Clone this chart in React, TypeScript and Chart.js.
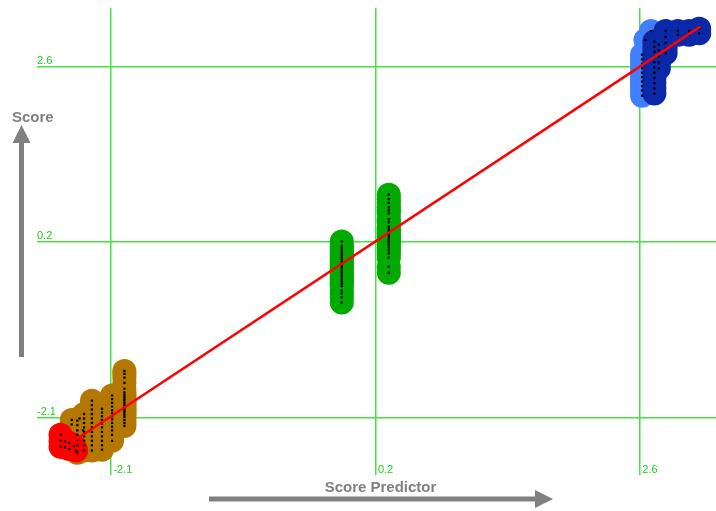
import React, { useEffect, useRef } from 'react';
import { Chart, registerables } from 'chart.js';

Chart.register(...registerables);

// Axis extents and the three marked positions on each axis
const X_MIN = -2.78;
const X_MAX = 3.28;
const Y_MIN = -2.89;
const Y_MAX = 3.39;
const TICK_VALUES = [-2.12, 0.24, 2.6];
const TICK_LABELS = ['-2.1', '0.2', '2.6'];

const X_TITLE = 'Score Predictor';
const Y_TITLE = 'Score';

// Lowest group (drawn beneath the brown group)
const RED_BACK_X = [-2.4, -2.37];
const RED_BACK_Y = [-2.13, -2.29];

// Lowest group (front)
const RED_X = [-2.57, -2.57, -2.57, -2.53, -2.53, -2.49, -2.49, -2.45, -2.43];
const RED_Y = [-2.35, -2.43, -2.51, -2.44, -2.52, -2.46, -2.54, -2.5, -2.56];

// Low group
const BROWN_X = [
  -2.0, -2.0, -2.0, -2.0, -2.0, -2.0, -2.0, -2.0, -2.0, -2.0, -2.0, -2.0, -2.0, -2.0, -2.0, -2.0, -2.0, -2.0, -2.0, -2.0, -2.0,
  -2.11, -2.11, -2.11, -2.11, -2.11, -2.11, -2.11, -2.11, -2.11, -2.11, -2.11, -2.11, -2.11,
  -2.2, -2.2, -2.2, -2.2, -2.2, -2.2, -2.2, -2.2, -2.2, -2.2, -2.2,
  -2.29, -2.29, -2.29, -2.29, -2.29, -2.29, -2.29, -2.29, -2.29, -2.29, -2.29, -2.29,
  -2.36, -2.36, -2.36, -2.36, -2.36, -2.36, -2.36, -2.36, -2.36,
  -2.42, -2.42, -2.42, -2.42, -2.42, -2.42, -2.42,
  -2.47, -2.47,
];
const BROWN_Y = [
  -1.49, -1.53, -1.58, -1.65, -1.73, -1.78, -1.81, -1.84, -1.87, -1.89, -1.92, -1.95, -1.98, -2.0, -2.03, -2.05, -2.08, -2.11, -2.15, -2.19, -2.23,
  -1.82, -1.87, -1.92, -1.97, -2.02, -2.06, -2.1, -2.14, -2.19, -2.24, -2.29, -2.35, -2.43,
  -2.0, -2.05, -2.1, -2.15, -2.2, -2.25, -2.31, -2.37, -2.43, -2.49, -2.55,
  -1.89, -1.95, -2.01, -2.07, -2.13, -2.19, -2.25, -2.31, -2.37, -2.43, -2.49, -2.56,
  -2.07, -2.13, -2.19, -2.25, -2.31, -2.37, -2.43, -2.49, -2.56,
  -2.16, -2.22, -2.29, -2.35, -2.42, -2.49, -2.59,
  -2.15, -2.21,
];

// Middle group: two columns
const GREEN_X = [
  -0.06, -0.06, -0.06, -0.06, -0.06, -0.06, -0.06, -0.06, -0.06, -0.06, -0.06, -0.06,
  -0.06, -0.06, -0.06, -0.06, -0.06, -0.06, -0.06, -0.06, -0.06, -0.06, -0.06, -0.06,
  0.36, 0.36, 0.36, 0.36, 0.36, 0.36, 0.36, 0.36, 0.36, 0.36, 0.36, 0.36,
  0.36, 0.36, 0.36, 0.36, 0.36, 0.36, 0.36, 0.36, 0.36, 0.36, 0.36,
];
const GREEN_Y = [
  0.25, 0.19, 0.16, 0.13, 0.1, 0.07, 0.04, 0.01, -0.02, -0.05, -0.08, -0.11,
  -0.14, -0.17, -0.2, -0.23, -0.26, -0.29, -0.32, -0.35, -0.41, -0.45, -0.5, -0.57,
  0.88, 0.82, 0.77, 0.71, 0.67, 0.63, 0.55, 0.51, 0.45, 0.42, 0.39, 0.36,
  0.33, 0.3, 0.27, 0.24, 0.21, 0.17, 0.13, 0.09, 0.03, -0.09, -0.17,
];

// High group (back)
const LIGHT_BLUE_X = [2.62, 2.62, 2.62, 2.62, 2.62, 2.62, 2.62, 2.62, 2.62, 2.62, 2.7, 2.65];
const LIGHT_BLUE_Y = [2.76, 2.7, 2.64, 2.58, 2.52, 2.46, 2.4, 2.34, 2.28, 2.21, 3.08, 2.96];

// Highest group (front)
const DARK_BLUE_X = [
  2.73, 2.73, 2.73, 2.73, 2.73, 2.73, 2.73, 2.73, 2.73, 2.73, 2.73,
  2.77, 2.77, 2.77, 2.77, 2.77,
  2.83, 2.83, 2.83, 2.83, 2.83,
  2.94, 2.94, 3.04, 3.04, 3.13, 3.13,
];
const DARK_BLUE_Y = [
  2.94, 2.87, 2.8, 2.73, 2.66, 2.59, 2.52, 2.45, 2.38, 2.31, 2.24,
  2.9, 2.82, 2.74, 2.66, 2.58,
  3.08, 3.0, 2.92, 2.84, 2.78,
  3.08, 3.03, 3.08, 3.03, 3.11, 3.05,
];

// Fitted line end points
const FIT_X = [-2.48, 3.14];
const FIT_Y = [-2.46, 3.14];

const GRID_COLOR = '#45e445';
const TICK_COLOR = '#22cc22';
const TITLE_COLOR = '#808080';

const toPoints = (xs: number[], ys: number[]) => xs.map((x, i) => ({ x, y: ys[i] }));

const blob = (data: { x: number; y: number }[], color: string, order: number) => ({
  data,
  order,
  backgroundColor: color,
  pointBackgroundColor: color,
  pointBorderWidth: 0,
  pointRadius: 12,
  pointHoverRadius: 12,
  showLine: false,
});

const tickLabelPlugin = {
  id: 'innerTickLabels',
  beforeDatasetsDraw(chart: any) {
    const { ctx, chartArea, scales } = chart;
    ctx.save();
    ctx.font = '11px "Liberation Sans", Arial, sans-serif';
    ctx.fillStyle = TICK_COLOR;
    ctx.textBaseline = 'alphabetic';
    ctx.textAlign = 'left';
    TICK_VALUES.forEach((v, i) => {
      const py = scales.y.getPixelForValue(v);
      ctx.fillText(TICK_LABELS[i], chartArea.left, py - 3);
      const px = scales.x.getPixelForValue(v);
      ctx.fillText(TICK_LABELS[i], px + 2.5, chartArea.bottom - 2);
    });
    ctx.restore();
  },
};

const axisArrowPlugin = {
  id: 'axisArrows',
  afterDraw(chart: any) {
    const { ctx } = chart;
    ctx.save();
    ctx.fillStyle = TITLE_COLOR;
    // horizontal arrow
    ctx.fillRect(209, 496.5, 327, 5);
    ctx.beginPath();
    ctx.moveTo(535, 490);
    ctx.lineTo(553, 499);
    ctx.lineTo(535, 508);
    ctx.closePath();
    ctx.fill();
    // vertical arrow
    ctx.fillRect(19, 143, 5, 214);
    ctx.beginPath();
    ctx.moveTo(12.5, 143);
    ctx.lineTo(21.5, 125);
    ctx.lineTo(30.5, 143);
    ctx.closePath();
    ctx.fill();
    // titles
    ctx.font = 'bold 15px "Liberation Sans", Arial, sans-serif';
    ctx.textBaseline = 'alphabetic';
    ctx.textAlign = 'center';
    ctx.fillText(X_TITLE, 380.5, 492);
    ctx.textAlign = 'left';
    ctx.fillText(Y_TITLE, 12, 122);
    ctx.restore();
  },
};

export default function App() {
  const canvasRef = useRef<HTMLCanvasElement | null>(null);

  useEffect(() => {
    if (!canvasRef.current) return;
    const all = [
      ...toPoints(RED_BACK_X, RED_BACK_Y),
      ...toPoints(RED_X, RED_Y),
      ...toPoints(BROWN_X, BROWN_Y),
      ...toPoints(GREEN_X, GREEN_Y),
      ...toPoints(LIGHT_BLUE_X, LIGHT_BLUE_Y),
      ...toPoints(DARK_BLUE_X, DARK_BLUE_Y),
    ];
    const chart = new Chart(canvasRef.current, {
      type: 'scatter',
      data: {
        datasets: [
          {
            data: toPoints(FIT_X, FIT_Y),
            order: 1,
            showLine: true,
            borderColor: '#ff0000',
            borderWidth: 2.5,
            pointRadius: 0,
            pointHoverRadius: 0,
          },
          {
            data: all,
            order: 2,
            pointStyle: 'rect',
            pointRadius: 1.6,
            pointHoverRadius: 1.6,
            pointBackgroundColor: '#000000',
            pointBorderWidth: 0,
            showLine: false,
          },
          blob(toPoints(RED_X, RED_Y), '#ff0000', 8),
          blob(toPoints(GREEN_X, GREEN_Y), '#00aa00', 8),
          blob(toPoints(DARK_BLUE_X, DARK_BLUE_Y), '#0a28a8', 8),
          blob(toPoints(BROWN_X, BROWN_Y), '#b47800', 9),
          blob(toPoints(LIGHT_BLUE_X, LIGHT_BLUE_Y), '#4080ff', 9),
          blob(toPoints(RED_BACK_X, RED_BACK_Y), '#ff0000', 10),
        ] as any,
      },
      options: {
        responsive: false,
        animation: false,
        events: [],
        layout: { autoPadding: false, padding: { left: 37, top: 8, right: 0, bottom: 36 } },
        plugins: {
          legend: { display: false },
          tooltip: { enabled: false },
        },
        scales: {
          x: {
            type: 'linear',
            min: X_MIN,
            max: X_MAX,
            afterBuildTicks: (s: any) => {
              s.ticks = TICK_VALUES.map((value) => ({ value }));
            },
            afterFit: (s: any) => {
              s.height = 0;
            },
            ticks: { display: false },
            grid: { color: GRID_COLOR, lineWidth: 1.5, drawTicks: false },
            border: { display: false },
          },
          y: {
            type: 'linear',
            min: Y_MIN,
            max: Y_MAX,
            afterBuildTicks: (s: any) => {
              s.ticks = TICK_VALUES.map((value) => ({ value }));
            },
            afterFit: (s: any) => {
              s.width = 0;
            },
            ticks: { display: false },
            grid: { color: GRID_COLOR, lineWidth: 1.5, drawTicks: false },
            border: { display: false },
          },
        },
      } as any,
      plugins: [tickLabelPlugin, axisArrowPlugin],
    });
    return () => chart.destroy();
  }, []);

  return (
    <div style={{ position: 'fixed', left: 0, top: 0, width: 716, height: 511, background: '#ffffff' }}>
      <canvas ref={canvasRef} width={716} height={511} style={{ display: 'block' }} />
    </div>
  );
}
